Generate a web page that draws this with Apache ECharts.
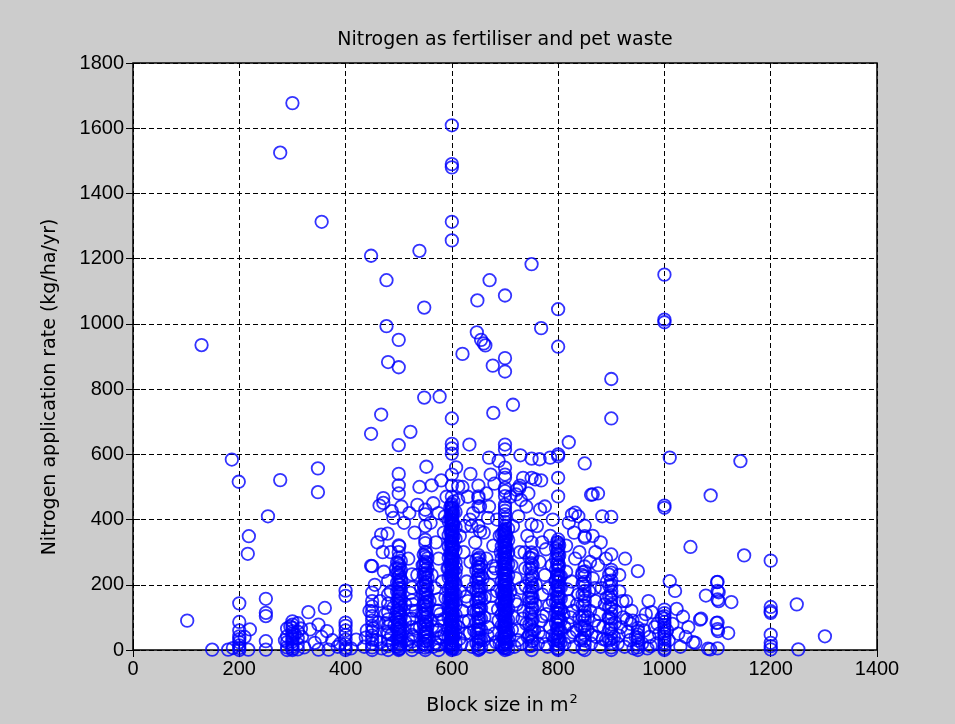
<!DOCTYPE html>
<html>
<head>
<meta charset="utf-8">
<script src="https://cdn.jsdelivr.net/npm/echarts@6/dist/echarts.min.js"></script>
<style>
  html, body { margin: 0; padding: 0; background: #cccccc; }
  #chart { width: 955px; height: 724px; }
</style>
</head>
<body>
<div id="chart"></div>
<script>
// Axis ticks
const xTicks = [0, 200, 400, 600, 800, 1000, 1200, 1400];
const yTicks = [0, 200, 400, 600, 800, 1000, 1200, 1400, 1600, 1800];

// Blocks sharing a common size: application rates (kg/ha/yr) per block size (m2)
const stack200 = [143, 86, 60, 42, 33, 24, 14, 6, 0];
const stack250 = [157, 114, 104, 27, 1];
const stack290 = [66, 42, 24, 8, 0];
const stack300 = [88, 78, 68, 58, 50, 42, 34, 26, 18, 10, 4, 0];
const stack310 = [82, 56, 36, 18, 2];
const stack400 = [182, 166, 84, 74, 60, 46, 32, 18, 6, 0];
const stack450 = [257, 176, 150, 134, 118, 104, 90, 74, 58, 44, 32, 20, 8, 0];
const stack480 = [212, 170, 142, 116, 94, 72, 50, 30, 12, 0];
const stack497 = [268, 236, 207, 179, 150, 121, 93, 64, 36, 11];
const stack500 = [628, 540, 505, 480, 321, 300, 283, 266, 251, 238, 225, 212, 200, 189, 177, 166, 155, 145, 135, 124, 114, 104, 94, 85, 76, 66, 57, 48, 40, 32, 24, 16, 9, 3, 0];
const stack502 = [258, 229, 201, 172, 143, 115, 86, 58, 29, 5];
const stack504 = [273, 244, 216, 186, 158, 129, 101, 72, 44, 17];
const stack525 = [232, 191, 152, 121, 96, 70, 46, 26, 11, 0];
const stack547 = [292, 262, 231, 199, 170, 139, 108, 79, 48, 19];
const stack550 = [430, 416, 380, 338, 328, 301, 286, 271, 258, 246, 233, 221, 209, 196, 184, 172, 160, 148, 136, 124, 112, 100, 88, 76, 64, 52, 40, 28, 17, 7, 0];
const stack552 = [297, 267, 238, 206, 178, 146, 117, 86, 57, 27];
const stack554 = [281, 251, 222, 190, 162, 131, 101, 70, 42, 12];
const stack575 = [156, 121, 90, 61, 36, 15, 0];
const stack594 = [395, 352, 318, 283, 251, 222, 188, 157, 126, 97, 66, 38, 12];
const stack597 = [437, 402, 366, 331, 297, 262, 227, 193, 158, 123, 89, 55, 20];
const stack599 = [444, 425, 407, 388, 369, 351, 333, 314, 296, 277, 259, 241, 222, 204, 185, 167, 149, 131, 113, 94, 76, 58, 40, 22, 4];
const stack600 = [1609, 1490, 1480, 1313, 1256, 710, 632, 618, 602, 538, 504, 470, 448, 437, 429, 418, 411, 399, 392, 383, 371, 362, 355, 344, 336, 327, 318, 309, 297, 291, 280, 272, 263, 255, 246, 238, 229, 220, 214, 203, 196, 187, 178, 170, 161, 152, 146, 137, 128, 119, 111, 102, 95, 86, 78, 69, 61, 53, 45, 37, 29, 21, 14, 7, 0];
const stack601 = [434, 416, 397, 379, 360, 342, 323, 305, 287, 268, 250, 232, 213, 195, 176, 158, 140, 121, 103, 85, 67, 48, 30, 12];
const stack603 = [455, 421, 386, 349, 314, 279, 245, 210, 175, 141, 106, 72, 38, 5];
const stack607 = [423, 377, 341, 305, 268, 236, 204, 171, 139, 108, 77, 49, 22, 3];
const stack646 = [276, 244, 213, 181, 149, 117, 85, 53, 21];
const stack650 = [504, 471, 466, 440, 380, 291, 279, 266, 255, 243, 231, 219, 206, 195, 182, 171, 158, 147, 134, 122, 111, 98, 87, 74, 62, 51, 38, 27, 15, 6, 0];
const stack652 = [284, 254, 222, 190, 158, 127, 95, 64, 33, 3];
const stack655 = [262, 228, 193, 161, 128, 96, 63, 31, 9];
const stack694 = [355, 318, 281, 247, 212, 177, 143, 109, 75, 41, 12];
const stack697 = [362, 331, 298, 266, 233, 201, 168, 136, 103, 71, 38, 6];
const stack699 = [367, 349, 330, 311, 292, 274, 256, 237, 218, 199, 181, 163, 144, 125, 107, 88, 70, 52, 33, 14];
const stack700 = [1087, 895, 854, 630, 615, 559, 538, 528, 497, 487, 472, 446, 438, 427, 416, 404, 393, 381, 371, 362, 352, 343, 333, 322, 313, 303, 294, 284, 275, 265, 254, 246, 236, 226, 217, 207, 197, 188, 178, 169, 159, 149, 140, 131, 121, 111, 102, 92, 83, 73, 64, 54, 44, 35, 26, 17, 8, 0];
const stack701 = [358, 339, 320, 302, 283, 265, 247, 228, 209, 190, 172, 154, 135, 116, 98, 79, 61, 42, 23, 5];
const stack703 = [347, 313, 280, 248, 215, 183, 150, 118, 85, 53, 20];
const stack706 = [372, 337, 299, 263, 229, 194, 160, 126, 92, 58, 25, 3];
const stack746 = [283, 249, 214, 181, 147, 112, 79, 45, 12];
const stack750 = [1183, 587, 528, 385, 330, 299, 281, 266, 251, 236, 219, 205, 191, 174, 160, 146, 131, 115, 101, 86, 71, 55, 41, 26, 13, 0];
const stack752 = [290, 259, 226, 193, 160, 127, 94, 61, 29];
const stack796 = [312, 279, 246, 214, 180, 147, 115, 82, 49, 16];
const stack798 = [331, 297, 263, 230, 197, 164, 131, 98, 66, 33, 4];
const stack800 = [1045, 930, 600, 594, 528, 471, 339, 329, 317, 306, 293, 281, 268, 256, 245, 232, 221, 208, 196, 185, 172, 161, 148, 137, 124, 113, 101, 88, 76, 65, 52, 41, 28, 17, 6, 0];
const stack802 = [322, 290, 258, 226, 192, 160, 127, 94, 61, 30];
const stack805 = [226, 192, 158, 124, 90, 57, 24];
const stack846 = [238, 203, 170, 137, 103, 70, 37, 5];
const stack850 = [572, 381, 349, 344, 256, 241, 226, 209, 196, 181, 164, 151, 136, 119, 106, 91, 74, 61, 46, 29, 16, 0];
const stack896 = [231, 197, 164, 131, 98, 63, 29];
const stack900 = [831, 710, 408, 293, 246, 237, 213, 197, 181, 168, 154, 139, 126, 111, 96, 79, 66, 51, 34, 21, 8, 0];
const stack950 = [68, 59, 47, 38, 29, 17, 8, 0];
const stack1000 = [1151, 1013, 1005, 443, 436, 124, 113, 104, 96, 86, 77, 69, 58, 50, 41, 33, 22, 14, 5, 0];
const stack1100 = [209, 181, 155, 84, 64, 5];
const stack1200 = [274, 132, 119, 114, 47, 22, 12, 2];

// Individual blocks [size m2, rate kg/ha/yr]
const scatterHigh = [
  [129, 935], [277, 1525], [300, 1677], [355, 1313], [448, 1209], [539, 1224],
  [477, 1134], [671, 1134], [648, 1072], [548, 1050], [477, 993], [647, 974],
  [655, 951], [660, 940], [663, 934], [500, 951], [620, 908], [480, 883],
  [500, 867], [677, 872], [548, 774], [577, 777], [715, 752], [768, 987],
  [448, 663], [467, 722], [522, 669], [678, 727], [633, 630], [820, 637],
  [1010, 590]
];
const scatterMid = [
  [186, 584], [199, 516], [277, 521], [348, 557], [348, 484], [254, 410],
  [218, 349], [216, 295], [464, 443], [467, 354], [448, 258], [729, 597],
  [1143, 579], [1087, 474], [1049, 316], [1150, 290], [865, 477], [926, 280],
  [950, 242], [860, 270], [552, 562], [539, 500], [612, 502], [673, 538],
  [722, 491], [728, 504], [757, 523], [734, 528], [862, 476], [832, 421],
  [826, 415], [471, 451], [487, 426], [471, 466], [479, 357], [501, 318],
  [766, 431], [777, 309], [668, 405], [653, 364], [653, 440], [634, 400],
  [637, 380], [587, 410], [678, 257], [678, 237], [721, 477], [727, 497],
  [737, 299], [470, 300], [460, 330], [485, 300], [495, 250], [530, 360],
  [510, 390], [520, 420], [535, 445], [490, 405], [505, 440], [570, 330],
  [585, 360], [560, 390], [575, 420], [565, 450], [590, 470], [580, 520],
  [562, 505], [622, 300], [644, 330], [615, 350], [625, 380], [640, 420],
  [612, 460], [630, 470], [620, 500], [635, 540], [608, 560], [678, 320],
  [692, 300], [660, 360], [670, 440], [685, 400], [690, 350], [665, 480],
  [680, 510], [688, 580], [670, 590], [728, 300], [742, 350], [715, 380],
  [725, 410], [740, 440], [710, 470], [730, 460], [744, 480], [770, 330],
  [785, 350], [760, 380], [790, 400], [775, 440], [768, 520], [785, 590],
  [765, 585], [832, 280], [815, 320], [830, 360], [840, 300], [820, 390],
  [838, 410], [870, 300], [880, 330], [890, 280], [875, 480], [883, 410],
  [865, 350], [915, 230]
];
const scatterLow = [
  [102, 90], [149, 1], [179, 1], [188, 6], [217, 1], [220, 63], [210, 40],
  [330, 116], [361, 129], [349, 78], [333, 63], [342, 22], [365, 58], [349, 1],
  [368, 1], [355, 40], [375, 30], [385, 10], [420, 32], [410, 5], [390, 20],
  [435, 10], [440, 60], [445, 120], [455, 200], [458, 30], [462, 85], [465, 150],
  [468, 5], [472, 240], [475, 110], [478, 55], [485, 180], [488, 20], [490, 130],
  [492, 75], [505, 210], [508, 60], [512, 140], [515, 20], [518, 280], [520, 95],
  [522, 175], [528, 40], [532, 120], [535, 230], [538, 10], [540, 70], [542, 190],
  [545, 260], [556, 30], [558, 150], [560, 90], [562, 230], [565, 10], [568, 190],
  [570, 60], [572, 120], [575, 280], [580, 40], [582, 210], [585, 95], [588, 160],
  [590, 15], [592, 250], [608, 250], [612, 70], [615, 180], [618, 20], [620, 120],
  [625, 50], [628, 210], [630, 150], [632, 90], [635, 270], [638, 10], [640, 190],
  [642, 60], [658, 220], [660, 30], [662, 160], [665, 280], [668, 70], [670, 200],
  [672, 10], [675, 130], [680, 50], [682, 250], [685, 180], [688, 90], [690, 20],
  [708, 40], [710, 180], [712, 260], [715, 100], [718, 10], [720, 220], [722, 140],
  [725, 60], [730, 190], [732, 20], [735, 120], [738, 250], [740, 80], [745, 160],
  [755, 60], [758, 200], [762, 20], [765, 270], [768, 90], [770, 170], [772, 40],
  [775, 230], [778, 110], [780, 10], [782, 190], [785, 70], [788, 260], [790, 150],
  [792, 30], [795, 210], [810, 110], [812, 20], [815, 240], [818, 80], [820, 150],
  [822, 40], [825, 210], [828, 120], [830, 10], [835, 60], [838, 170], [840, 100],
  [842, 30], [845, 230], [855, 60], [858, 180], [860, 120], [862, 20], [865, 220],
  [868, 90], [870, 150], [872, 40], [875, 260], [878, 110], [880, 10], [882, 190],
  [885, 70], [888, 140], [890, 30], [892, 210], [895, 100], [905, 40], [908, 120],
  [912, 20], [915, 180], [918, 70], [922, 100], [925, 10], [928, 150], [929, 93],
  [935, 30], [938, 120], [940, 90], [942, 5], [958, 20], [962, 60], [965, 110],
  [968, 5], [972, 40], [976, 116], [982, 70], [985, 20], [990, 50], [995, 100],
  [970, 150], [1008, 30], [1010, 211], [1015, 80], [1020, 181], [1023, 126],
  [1026, 50], [1030, 10], [1035, 102], [1040, 40], [1045, 70], [1054, 24],
  [1058, 22], [1067, 93], [1069, 96], [1078, 167], [1082, 4], [1086, 2],
  [1098, 83], [1099, 208], [1101, 58], [1102, 177], [1102, 150], [1120, 52],
  [1126, 147], [1249, 140], [1252, 2], [1302, 42]
];
const scatterFloor = [
  [296, 72], [304, 48], [316, 66], [286, 30], [322, 8], [318, 40],
  [438, 38], [452, 66], [466, 24], [476, 82], [486, 46], [494, 100],
  [512, 88], [518, 32], [526, 140], [534, 66], [544, 110], [552, 56],
  [563, 72], [569, 22], [578, 110], [586, 48], [614, 34], [622, 88],
  [627, 164], [634, 52], [641, 120], [661, 100], [667, 44], [674, 166],
  [683, 24], [687, 124], [713, 62], [719, 150], [724, 30], [733, 96],
  [739, 196], [743, 40], [757, 140], [763, 54], [771, 104], [776, 18],
  [783, 136], [789, 44], [812, 70], [817, 186], [823, 100], [829, 54],
  [836, 140], [843, 72], [856, 100], [863, 46], [869, 190], [876, 74],
  [884, 34], [891, 160], [907, 84], [914, 44], [921, 150], [931, 56],
  [937, 80], [946, 40], [957, 90], [974, 12], [987, 80], [1005, 60]
];

const stacks = [
  [200, stack200], [250, stack250], [290, stack290], [300, stack300], [310, stack310],
  [400, stack400], [450, stack450], [480, stack480], [497, stack497], [500, stack500],
  [502, stack502], [504, stack504], [525, stack525], [547, stack547], [550, stack550],
  [552, stack552], [554, stack554], [575, stack575], [594, stack594], [597, stack597],
  [599, stack599], [600, stack600], [601, stack601], [603, stack603], [607, stack607],
  [646, stack646], [650, stack650], [652, stack652], [655, stack655], [694, stack694],
  [697, stack697], [699, stack699], [700, stack700], [701, stack701], [703, stack703],
  [706, stack706], [746, stack746], [750, stack750], [752, stack752], [796, stack796],
  [798, stack798], [800, stack800], [802, stack802], [805, stack805], [846, stack846],
  [850, stack850], [896, stack896], [900, stack900], [950, stack950], [1000, stack1000],
  [1100, stack1100], [1200, stack1200]
];

const points = [];
stacks.forEach(([size, rates]) => rates.forEach(r => points.push([size, r])));
scatterHigh.concat(scatterMid, scatterLow, scatterFloor).forEach(p => points.push(p));

const tickFont = { fontFamily: 'Liberation Sans', fontSize: 20, color: '#000' };
const gridDash = { color: '#000', width: 1, type: [5, 3] };

function axisPair(dir, ticks) {
  const min = ticks[0], max = ticks[ticks.length - 1], interval = ticks[1] - ticks[0];
  const main = {
    type: 'value', min, max, interval,
    position: dir === 'x' ? 'bottom' : 'left',
    axisLine: { show: false },
    axisTick: { show: true, inside: true, length: 7, lineStyle: { color: '#000', width: 1 } },
    axisLabel: Object.assign({ margin: 9, formatter: v => String(v) }, tickFont),
    splitLine: { show: true, lineStyle: gridDash }
  };
  const mirror = {
    type: 'value', min, max, interval,
    position: dir === 'x' ? 'top' : 'right',
    axisLine: { show: false },
    axisTick: { show: true, inside: true, length: 7, lineStyle: { color: '#000', width: 1 } },
    axisLabel: { show: false },
    splitLine: { show: false }
  };
  return [main, mirror];
}

const chart = echarts.init(document.getElementById('chart'), null, { renderer: 'canvas' });
chart.setOption({
  backgroundColor: '#cccccc',
  animation: false,
  grid: {
    left: 133, right: 78, top: 63, bottom: 74,
    show: true, backgroundColor: '#ffffff', borderColor: '#000', borderWidth: 1.5
  },
  xAxis: axisPair('x', xTicks),
  yAxis: axisPair('y', yTicks),
  series: [{
    type: 'scatter',
    xAxisIndex: 0, yAxisIndex: 0,
    symbol: 'circle',
    symbolSize: 12.5,
    silent: true,
    itemStyle: { color: 'rgba(0,0,0,0)', borderColor: '#0000ff', borderWidth: 1.8 },
    data: points
  }],
  graphic: [
    {
      type: 'text', x: 505, y: 40, silent: true,
      style: {
        text: 'Nitrogen as fertiliser and pet waste',
        font: '19px "DejaVu Sans"', fill: '#000',
        textAlign: 'center', textVerticalAlign: 'middle'
      }
    },
    {
      type: 'text', x: 502, y: 706, silent: true,
      style: {
        text: 'Block size in m{sup|2}',
        font: '19px "DejaVu Sans"', fill: '#000',
        textAlign: 'center', textVerticalAlign: 'middle',
        rich: {
          sup: { font: '13px "DejaVu Sans"', fill: '#000', padding: [0, 0, 12, 1] }
        }
      }
    },
    {
      type: 'text', x: 50, y: 387, rotation: Math.PI / 2, silent: true,
      style: {
        text: 'Nitrogen application rate (kg/ha/yr)',
        font: '19px "DejaVu Sans"', fill: '#000',
        textAlign: 'center', textVerticalAlign: 'middle'
      }
    }
  ]
});
</script>
</body>
</html>
